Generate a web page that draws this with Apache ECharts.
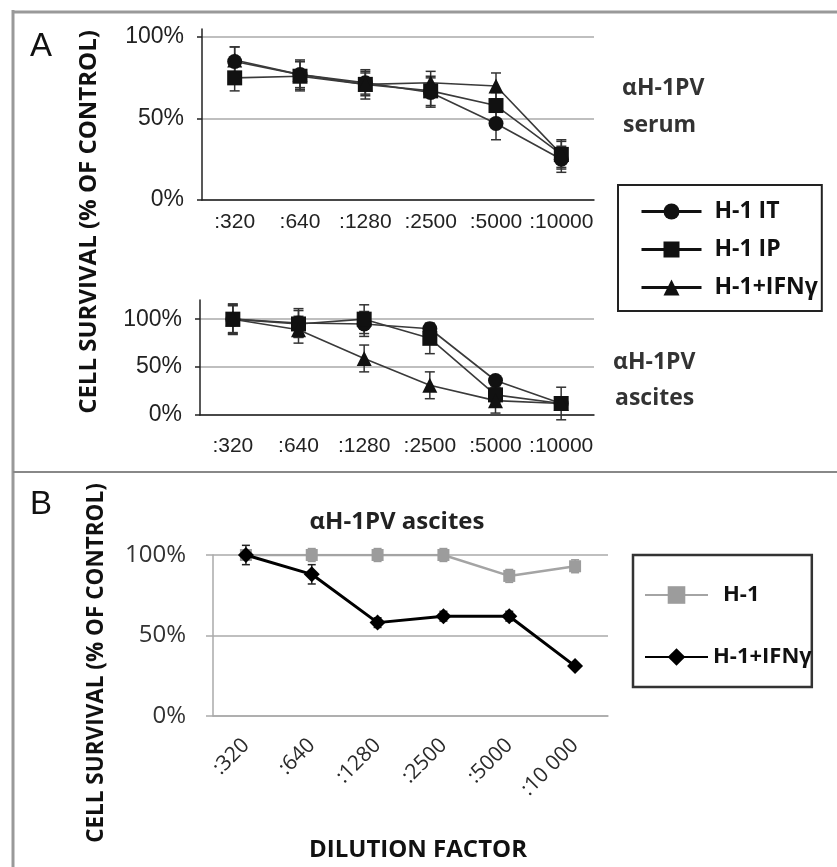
<!DOCTYPE html>
<html>
<head>
<meta charset="utf-8">
<script src="https://cdn.jsdelivr.net/npm/echarts@6/dist/echarts.min.js"></script>
<style>
  body { margin: 0; background: #fff; }
  #chart { width: 837px; height: 867px; }
</style>
</head>
<body>
<div id="chart"></div>
<script>
// dilution categories
var dilA = [':320', ':640', ':1280', ':2500', ':5000', ':10000'];
var dilB = [':320', ':640', ':1280', ':2500', ':5000', ':10 000'];
var yTicks = [0, 50, 100];

// panel A, serum (% of control) and error (+/-)
var serumIT  = [85, 77, 72, 66, 47, 25];
var serumIP  = [75, 76, 71, 67, 58, 28];
var serumIFN = [86, 77, 71, 72, 70, 28];
var serumITErr  = [9, 9, 7, 9, 10, 8];
var serumIPErr  = [8, 9, 9, 9, 8, 9];
var serumIFNErr = [8, 8, 7, 7, 8, 8];

// panel A, ascites
var ascIT  = [100, 96, 95, 90, 36, 12];
var ascIP  = [100, 95, 100, 80, 21, 12];
var ascIFN = [100, 89, 59, 31, 15, 12];
var ascITErr  = [16, 15, 13, 4, 4, 17];
var ascIPErr  = [15, 14, 15, 16, 8, 6];
var ascIFNErr = [14, 14, 14, 14, 13, 7];

// panel B, ascites
var bH1  = [100, 100, 100, 100, 87, 93];
var bIFN = [100, 88, 58, 62, 62, 31];
var bH1Err  = [3, 4, 4, 4, 4, 4];
var bIFNErr = [6, 6, 3, 3, 3, 1];

// panel B uses its own legend, so its IFN series needs a distinct name (zero-width space)
var nameBH1 = 'H-1';
var nameBIFN = 'H-1+IFNγ\u200b';

var chart = echarts.init(document.getElementById('chart'));

function errorBars(gi, vals, errs, color, cap, width) {
  return {
    type: 'custom',
    xAxisIndex: gi, yAxisIndex: gi,
    silent: true, z: 1,
    data: vals.map(function (v, i) { return [i, v - errs[i], v + errs[i]]; }),
    renderItem: function (params, api) {
      var x = api.value(0);
      var lo = api.coord([x, api.value(1)]);
      var hi = api.coord([x, api.value(2)]);
      var st = { stroke: color, lineWidth: width };
      return {
        type: 'group',
        children: [
          { type: 'line', shape: { x1: lo[0], y1: lo[1], x2: hi[0], y2: hi[1] }, style: st },
          { type: 'line', shape: { x1: lo[0] - cap, y1: lo[1], x2: lo[0] + cap, y2: lo[1] }, style: st },
          { type: 'line', shape: { x1: hi[0] - cap, y1: hi[1], x2: hi[0] + cap, y2: hi[1] }, style: st }
        ]
      };
    }
  };
}

function lineA(gi, name, data, symbol) {
  return {
    type: 'line', name: name, xAxisIndex: gi, yAxisIndex: gi, data: data,
    symbol: symbol, symbolSize: 15, z: 3,
    itemStyle: { color: '#111' },
    lineStyle: { color: '#3a3a3a', width: 1.6 }
  };
}

function xAxisA(gi, margin) {
  return {
    gridIndex: gi, type: 'category', data: dilA,
    axisLine: { lineStyle: { color: '#222', width: 1.5 } },
    axisTick: { length: 5, lineStyle: { color: '#222', width: 1.5 } },
    axisLabel: { interval: 0, color: '#222', fontFamily: 'Liberation Sans', fontSize: 21, margin: margin }
  };
}

function yAxisA(gi, max) {
  return {
    gridIndex: gi, type: 'value', min: 0, max: max, interval: 50,
    axisLine: { show: true, lineStyle: { color: '#222', width: 1.5 } },
    axisTick: { show: true, length: 5, customValues: yTicks, lineStyle: { color: '#222', width: 1.5 } },
    axisLabel: { customValues: yTicks, formatter: '{value}%', color: '#222', fontFamily: 'Liberation Sans', fontSize: 23, margin: 18 },
    splitLine: { show: true, lineStyle: { color: '#aaa', width: 1.5 } }
  };
}

var boldFont = 'Open Sans';

var option = {
  animation: false,
  backgroundColor: '#fff',
  grid: [
    { left: 202, top: 29, width: 392, height: 171 },
    { left: 200, top: 300, width: 394, height: 115 },
    { left: 213, top: 555, width: 395, height: 161 }
  ],
  xAxis: [
    xAxisA(0, 12),
    xAxisA(1, 21),
    {
      gridIndex: 2, type: 'category', data: dilB,
      axisLine: { lineStyle: { color: '#aaa', width: 1.5 } },
      axisTick: { length: 7, lineStyle: { color: '#aaa', width: 1.5 } },
      axisLabel: { interval: 0, rotate: 45, color: '#2a2a2a', fontFamily: 'Open Sans', fontSize: 21, margin: 26 }
    }
  ],
  yAxis: [
    yAxisA(0, 105),
    yAxisA(1, 120),
    {
      gridIndex: 2, type: 'value', min: 0, max: 100, interval: 50,
      axisLine: { show: true, lineStyle: { color: '#aaa', width: 1.5 } },
      axisTick: { show: true, length: 7, lineStyle: { color: '#aaa', width: 1.5 } },
      axisLabel: { formatter: '{value}%', color: '#333', fontFamily: 'Open Sans', fontSize: 24, margin: 27 },
      splitLine: { show: true, lineStyle: { color: '#aaa', width: 1.5 } }
    }
  ],
  legend: [
    {
      orient: 'vertical', left: 618, top: 185,
      data: ['H-1 IT', 'H-1 IP', 'H-1+IFNγ'],
      itemWidth: 60, itemHeight: 20, itemGap: 15,
      padding: [15, 4, 12, 22],
      borderColor: '#222', borderWidth: 2, borderRadius: 0,
      lineStyle: { color: '#111', width: 3 },
      textStyle: { fontFamily: boldFont, fontWeight: 'bold', fontSize: 23, color: '#111', padding: [0, 0, 0, 8] }
    },
    {
      orient: 'vertical', left: 633, top: 555,
      data: [
        { name: nameBH1, textStyle: { padding: [0, 0, 0, 10] } },
        { name: nameBIFN }
      ],
      itemWidth: 63, itemHeight: 22, itemGap: 40,
      padding: [29, 0, 19, 11],
      borderColor: '#333', borderWidth: 2.5, borderRadius: 0,
      textStyle: { fontFamily: boldFont, fontWeight: 'bold', fontSize: 22, color: '#111' }
    }
  ],
  graphic: [
    { type: 'line', shape: { x1: 13, y1: 10, x2: 13, y2: 867 }, style: { stroke: '#999', lineWidth: 3 } },
    { type: 'line', shape: { x1: 13, y1: 12, x2: 837, y2: 12 }, style: { stroke: '#999', lineWidth: 3 } },
    { type: 'line', shape: { x1: 13, y1: 472, x2: 837, y2: 472 }, style: { stroke: '#888', lineWidth: 2 } },
    { type: 'text', x: 30, y: 47, style: { text: 'A', fontFamily: 'Liberation Sans', fontSize: 33, fill: '#111', verticalAlign: 'middle' } },
    { type: 'text', x: 30, y: 505, style: { text: 'B', fontFamily: 'Liberation Sans', fontSize: 33, fill: '#111', verticalAlign: 'middle' } },
    { type: 'text', x: 89, y: 222, rotation: Math.PI / 2, style: { text: 'CELL SURVIVAL (% OF CONTROL)', fontFamily: boldFont, fontWeight: 'bold', fontSize: 24, fill: '#111', align: 'center', verticalAlign: 'middle' } },
    { type: 'text', x: 97, y: 663, rotation: Math.PI / 2, style: { text: 'CELL SURVIVAL (% OF CONTROL)', fontFamily: boldFont, fontWeight: 'bold', fontSize: 22.5, fill: '#111', align: 'center', verticalAlign: 'middle' } },
    { type: 'text', x: 622, y: 88, style: { text: 'αH-1PV', fontFamily: boldFont, fontWeight: 'bold', fontSize: 23, fill: '#333', verticalAlign: 'middle' } },
    { type: 'text', x: 623, y: 125, style: { text: 'serum', fontFamily: boldFont, fontWeight: 'bold', fontSize: 23, fill: '#333', verticalAlign: 'middle' } },
    { type: 'text', x: 613, y: 362, style: { text: 'αH-1PV', fontFamily: boldFont, fontWeight: 'bold', fontSize: 23, fill: '#333', verticalAlign: 'middle' } },
    { type: 'text', x: 615, y: 398, style: { text: 'ascites', fontFamily: boldFont, fontWeight: 'bold', fontSize: 23, fill: '#333', verticalAlign: 'middle' } },
    { type: 'text', x: 397, y: 522, style: { text: 'αH-1PV ascites', fontFamily: boldFont, fontWeight: 'bold', fontSize: 24, fill: '#222', align: 'center', verticalAlign: 'middle' } },
    { type: 'text', x: 418, y: 850, style: { text: 'DILUTION FACTOR', fontFamily: boldFont, fontWeight: 'bold', fontSize: 24, fill: '#111', align: 'center', verticalAlign: 'middle' } }
  ],
  series: [
    errorBars(0, serumIT, serumITErr, '#333', 5, 1.5),
    errorBars(0, serumIP, serumIPErr, '#333', 5, 1.5),
    errorBars(0, serumIFN, serumIFNErr, '#333', 5, 1.5),
    lineA(0, 'H-1 IT', serumIT, 'circle'),
    lineA(0, 'H-1 IP', serumIP, 'rect'),
    lineA(0, 'H-1+IFNγ', serumIFN, 'triangle'),
    errorBars(1, ascIT, ascITErr, '#333', 5, 1.5),
    errorBars(1, ascIP, ascIPErr, '#333', 5, 1.5),
    errorBars(1, ascIFN, ascIFNErr, '#333', 5, 1.5),
    lineA(1, 'H-1 IT', ascIT, 'circle'),
    lineA(1, 'H-1 IP', ascIP, 'rect'),
    lineA(1, 'H-1+IFNγ', ascIFN, 'triangle'),
    errorBars(2, bH1, bH1Err, '#999', 4, 1.5),
    errorBars(2, bIFN, bIFNErr, '#222', 4, 1.5),
    {
      type: 'line', name: nameBH1, xAxisIndex: 2, yAxisIndex: 2, data: bH1,
      symbol: 'rect', symbolSize: 12, z: 3,
      itemStyle: { color: '#9c9c9c' },
      lineStyle: { color: '#a4a4a4', width: 2.5 }
    },
    {
      type: 'line', name: nameBIFN, xAxisIndex: 2, yAxisIndex: 2, data: bIFN,
      symbol: 'diamond', symbolSize: 16, z: 4,
      itemStyle: { color: '#000' },
      lineStyle: { color: '#000', width: 3 }
    }
  ]
};

chart.setOption(option);
</script>
</body>
</html>
